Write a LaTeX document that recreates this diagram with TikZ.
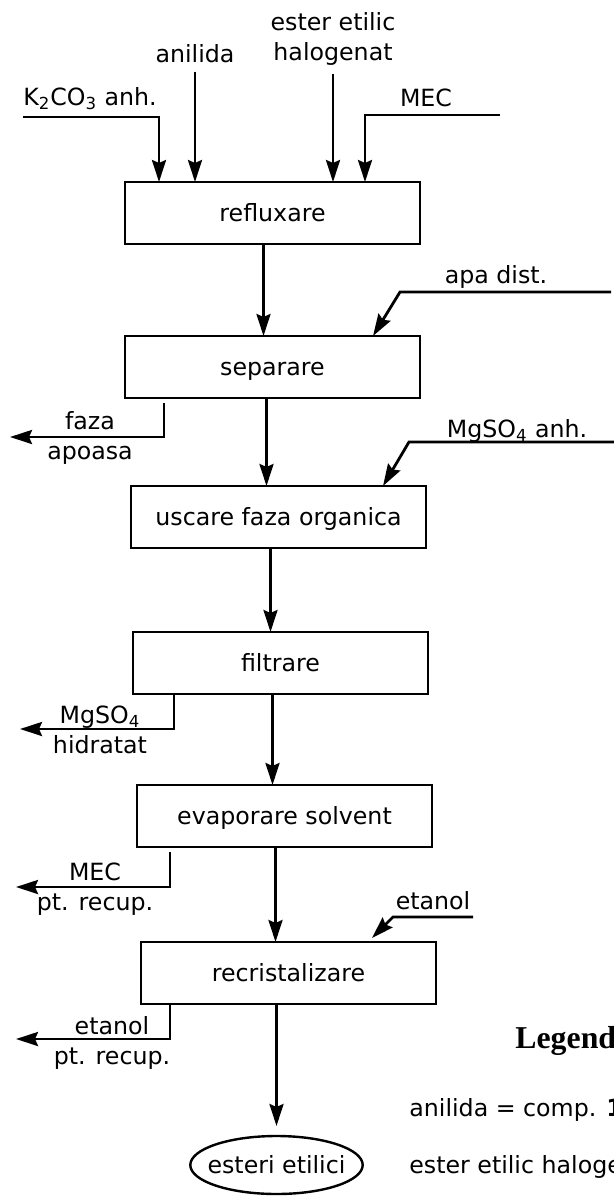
\documentclass[tikz,border=0pt]{standalone}
\usepackage{fontspec}
\setmainfont{DejaVu Sans}
\newfontfamily\legendfont{Liberation Serif}
\usepackage{tikz}
\usetikzlibrary{positioning, arrows.meta, shapes.geometric}

\begin{document}
\begin{tikzpicture}[
  x=0.5pt, y=-0.5pt,
  font=\fontsize{11.85}{15}\selectfont,
  process/.style={rectangle, draw, line width=1.2pt, outer sep=0pt, minimum width=147.5pt, minimum height=31pt, inner sep=0pt, text height=0.9em, text depth=0.1em, align=center},
  product/.style={ellipse, draw, line width=1.2pt, outer sep=0pt, minimum height=29pt, inner xsep=-4pt, inner ysep=0pt},
  stream/.style={inner sep=1pt, align=center},
  legtext/.style={anchor=west, inner sep=0pt},
  flow/.style={-{Stealth[length=11pt, width=7pt, inset=1.5pt]}, line width=1.4pt}
]
  \useasboundingbox (0,0) rectangle (614,1196);
  \clip (0,0) rectangle (614,1196);

  % Process steps
  \node[process] (reflux) at (272.5,213) {refluxare};
  \node[process, below=46pt of reflux] (separ) {separare};
  \node[process, below=44pt of separ, xshift=3pt] (uscare) {uscare faza organica};
  \node[process, below=42pt of uscare, xshift=1pt] (filtr) {filtrare};
  \node[process, below=45.5pt of filtr, xshift=2pt] (evap) {evaporare solvent};
  \node[process, below=47.5pt of evap, xshift=2pt] (recrist) {recristalizare};
  \node[product, below=66pt of recrist, xshift=-6pt] (esteri) {esteri etilici};

  % Stream labels
  \node[stream] (k2co3) at (90,99) {K\textsubscript{2}CO\textsubscript{3} anh.};
  \node[stream] (anilida) at (195,54) {anilida};
  \node[stream] (ester) at (333,39) {ester etilic\\halogenat};
  \node[stream] (mec) at (426,98) {MEC};
  \node[stream] (apa) at (496,277) {apa dist.};
  \node[stream] (mgso4) at (517,431) {MgSO\textsubscript{4} anh.};
  \node[stream] (etanol) at (433,901) {etanol};
  \node[stream] (faza) at (90,438) {faza\\apoasa};
  \node[stream] (mgsohid) at (100,730) {MgSO\textsubscript{4}\\hidratat};
  \node[stream] (mecrec) at (95,889) {MEC\\pt. recup.};
  \node[stream] (etanolrec) at (112,1043) {etanol\\pt. recup.};

  % Free line ends
  \coordinate (k2in) at (23,117);
  \coordinate (mecin) at (500,115);
  \coordinate (apain) at (611,292);
  \coordinate (mgin) at (614,442);
  \coordinate (etin) at (473,917);
  \coordinate (fazaend) at (10,437);
  \coordinate (mghend) at (20,729);
  \coordinate (mecend) at (16,887);
  \coordinate (etend) at (16,1039);

  % Feeds
  \draw[flow] (k2in) -| ([xshift=17pt]reflux.north west);
  \draw[flow, shorten <=3pt] (anilida.south) -- (anilida.south |- reflux.north);
  \draw[flow, shorten <=3pt] (ester.south) -- (ester.south |- reflux.north);
  \draw[flow] (mecin) -| ([xshift=120pt]reflux.north west);
  \draw[flow] (apain) -- ++(-211,0) -- ([xshift=124pt]separ.north west);
  \draw[flow] (mgin) -- ++(-205,0) -- ([xshift=126pt]uscare.north west);
  \draw[flow] (etin) -- ++(-80,0) -- ([xshift=115.5pt,yshift=2pt]recrist.north west);

  % Main line
  \draw[flow] ([xshift=-4.5pt]reflux.south) coordinate (m1) -- (m1 |- separ.north);
  \draw[flow] ([xshift=-3pt]separ.south) coordinate (m2) -- (m2 |- uscare.north);
  \draw[flow] ([xshift=-4pt]uscare.south) coordinate (m3) -- (m3 |- filtr.north);
  \draw[flow] ([xshift=-4pt]filtr.south) coordinate (m4) -- (m4 |- evap.north);
  \draw[flow] ([xshift=-4.5pt]evap.south) coordinate (m5) -- (m5 |- recrist.north);
  \draw[flow, shorten >=5pt] ([xshift=-6pt]recrist.south) coordinate (m6) -- (m6 |- esteri.north);

  % Outlets
  \draw[flow] ([xshift=19.5pt,yshift=-2.5pt]separ.south west) |- (fazaend);
  \draw[flow] ([xshift=20.5pt]filtr.south west) |- (mghend);
  \draw[flow] ([xshift=16.5pt,yshift=-2.5pt]evap.south west) |- (mecend);
  \draw[flow] ([xshift=14.5pt]recrist.south west) |- (etend);

  % Legend
  \node[legtext, font=\legendfont\bfseries\fontsize{15.9}{18}\selectfont] (legend) at (515,1041) {Legend};
  \node[legtext] (leganil) at (409,1110) {anilida = comp. \textbf{1}};
  \node[legtext] (legester) at (409,1167) {ester etilic haloge};
\end{tikzpicture}
\end{document}
